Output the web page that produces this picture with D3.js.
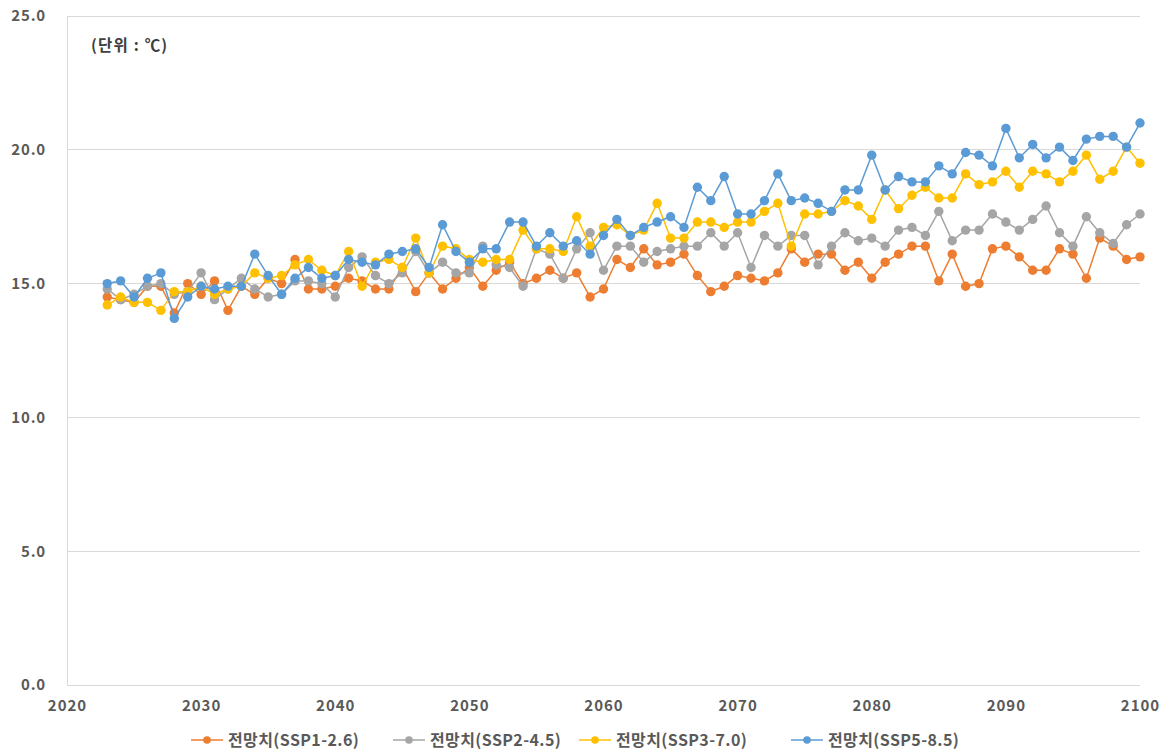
<!DOCTYPE html>
<html><head><meta charset="utf-8">
<script src="https://cdn.jsdelivr.net/npm/d3@7/dist/d3.min.js"></script>
<style>
body{margin:0;background:#fff;}
text{font-family:"Noto Sans CJK KR","Noto Sans",sans-serif;}
</style></head>
<body><svg id="chart" width="1168" height="752"></svg>
<script>
const years = d3.range(2023, 2101);
const seriesNames = ["전망치(SSP1-2.6)", "전망치(SSP2-4.5)", "전망치(SSP3-7.0)", "전망치(SSP5-8.5)"];
const seriesColors = ["#ED7D31", "#A5A5A5", "#FFC000", "#5B9BD5"];
const ssp126 = [14.5,14.4,14.3,14.9,14.9,13.9,15.0,14.6,15.1,14.0,14.9,14.6,15.2,15.0,15.9,14.8,14.8,14.9,15.2,15.1,14.8,14.8,15.6,14.7,15.4,14.8,15.2,15.6,14.9,15.5,15.8,15.0,15.2,15.5,15.2,15.4,14.5,14.8,15.9,15.6,16.3,15.7,15.8,16.1,15.3,14.7,14.9,15.3,15.2,15.1,15.4,16.3,15.8,16.1,16.1,15.5,15.8,15.2,15.8,16.1,16.4,16.4,15.1,16.1,14.9,15.0,16.3,16.4,16.0,15.5,15.5,16.3,16.1,15.2,16.7,16.4,15.9,16.0];
const ssp245 = [14.8,14.4,14.6,14.9,15.0,14.6,14.7,15.4,14.4,14.8,15.2,14.8,14.5,14.6,15.1,15.1,15.0,14.5,15.6,16.0,15.3,15.0,15.4,16.2,15.4,15.8,15.4,15.4,16.4,15.7,15.6,14.9,16.3,16.1,15.2,16.3,16.9,15.5,16.4,16.4,15.8,16.2,16.3,16.4,16.4,16.9,16.4,16.9,15.6,16.8,16.4,16.8,16.8,15.7,16.4,16.9,16.6,16.7,16.4,17.0,17.1,16.8,17.7,16.6,17.0,17.0,17.6,17.3,17.0,17.4,17.9,16.9,16.4,17.5,16.9,16.5,17.2,17.6];
const ssp370 = [14.2,14.5,14.3,14.3,14.0,14.7,14.7,14.9,14.6,14.8,14.9,15.4,15.2,15.3,15.7,15.9,15.5,15.3,16.2,14.9,15.8,15.9,15.6,16.7,15.4,16.4,16.3,15.9,15.8,15.9,15.9,17.0,16.3,16.3,16.2,17.5,16.4,17.1,17.2,16.8,17.0,18.0,16.7,16.7,17.3,17.3,17.1,17.3,17.3,17.7,18.0,16.4,17.6,17.6,17.7,18.1,17.9,17.4,18.5,17.8,18.3,18.6,18.2,18.2,19.1,18.7,18.8,19.2,18.6,19.2,19.1,18.8,19.2,19.8,18.9,19.2,20.1,19.5];
const ssp585 = [15.0,15.1,14.5,15.2,15.4,13.7,14.5,14.9,14.8,14.9,14.9,16.1,15.3,14.6,15.2,15.6,15.2,15.3,15.9,15.8,15.7,16.1,16.2,16.3,15.6,17.2,16.2,15.8,16.3,16.3,17.3,17.3,16.4,16.9,16.4,16.6,16.1,16.8,17.4,16.8,17.1,17.3,17.5,17.1,18.6,18.1,19.0,17.6,17.6,18.1,19.1,18.1,18.2,18.0,17.7,18.5,18.5,19.8,18.5,19.0,18.8,18.8,19.4,19.1,19.9,19.8,19.4,20.8,19.7,20.2,19.7,20.1,19.6,20.4,20.5,20.5,20.1,21.0];
const yTicks = [0, 5, 10, 15, 20, 25];
const xTicks = [2020, 2030, 2040, 2050, 2060, 2070, 2080, 2090, 2100];
const unitLabel = "(단위 : ℃)";

const seriesValues = [ssp126, ssp245, ssp370, ssp585];
const svg = d3.select("#chart");
const W = 1168, H = 752;
const m = {left: 67, right: 28, top: 16, bottom: 67};
const x = d3.scaleLinear().domain([2020, 2100]).range([m.left, W - m.right]);
const y = d3.scaleLinear().domain([0, 25]).range([H - m.bottom, m.top]);
const tickFont = '"Noto Sans CJK KR", sans-serif';

// gridlines
svg.append("g").selectAll("line").data(yTicks).join("line")
  .attr("x1", m.left).attr("x2", W - m.right)
  .attr("y1", d => y(d)).attr("y2", d => y(d))
  .attr("stroke", "#D9D9D9").attr("stroke-width", 1).attr("shape-rendering", "crispEdges");
svg.append("line").attr("x1", m.left).attr("x2", m.left).attr("y1", y(25)).attr("y2", y(0))
  .attr("stroke", "#D9D9D9").attr("shape-rendering", "crispEdges");

// y axis
const yAxis = d3.axisLeft(y).tickValues(yTicks).tickFormat(d3.format(".1f")).tickSize(0).tickPadding(21);
const gy = svg.append("g").attr("transform", `translate(${m.left},0)`).call(yAxis);
gy.select(".domain").remove();
gy.selectAll("text").attr("fill", "#595959").attr("font-size", 15).attr("font-weight", "bold")
  .attr("letter-spacing", "0.8px").style("font-family", tickFont);

// x axis
const xAxis = d3.axisBottom(x).tickValues(xTicks).tickFormat(d3.format("d")).tickSize(0).tickPadding(15);
const gx = svg.append("g").attr("transform", `translate(0,${y(0)})`).call(xAxis);
gx.select(".domain").remove();
gx.selectAll("text").attr("fill", "#595959").attr("font-size", 15).attr("font-weight", "bold")
  .attr("letter-spacing", "1px").style("font-family", tickFont);

// series
const line = d3.line().x((d, i) => x(years[i])).y(d => y(d));
seriesValues.forEach((vals, si) => {
  const g = svg.append("g");
  g.append("path").datum(vals).attr("d", line).attr("fill", "none")
    .attr("stroke", seriesColors[si]).attr("stroke-width", 1.5);
  g.selectAll("circle").data(vals).join("circle")
    .attr("cx", (d, i) => x(years[i])).attr("cy", d => y(d)).attr("r", 4.7)
    .attr("fill", seriesColors[si]);
});

// unit label
svg.append("text").attr("x", 91).attr("y", 46).attr("dy", "0.35em").attr("fill", "#404040").attr("font-size", 15.5)
  .attr("font-weight", "bold").attr("letter-spacing", "1.2px").text(unitLabel);

// legend
const legendC = [207, 409, 595, 807];
const lg = svg.append("g").attr("transform", "translate(0,740)");
seriesNames.forEach((n, i) => {
  const gi = lg.append("g").attr("transform", `translate(${legendC[i]},0)`);
  gi.append("line").attr("x1", -16).attr("x2", 16).attr("y1", 0).attr("y2", 0)
    .attr("stroke", seriesColors[i]).attr("stroke-width", 1.5);
  gi.append("circle").attr("cx", 0).attr("cy", 0).attr("r", 3.8).attr("fill", seriesColors[i]);
  gi.append("text").attr("x", 21).attr("y", 0).attr("dy", "0.35em").attr("fill", "#595959")
    .attr("font-size", 16).attr("font-weight", "bold").attr("letter-spacing", "0.4px").text(n);
});
</script></body></html>
